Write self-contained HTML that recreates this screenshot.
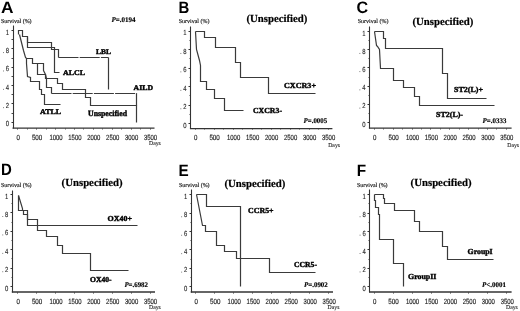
<!DOCTYPE html><html><head><meta charset="utf-8"><style>html,body{margin:0;padding:0;background:#fff;}svg{display:block;filter:grayscale(100%);text-rendering:geometricPrecision;}</style></head><body><svg width="520" height="311" viewBox="0 0 520 311">
<rect width="520" height="311" fill="#fff"/>
<text x="1.0" y="13.0" font-family="Liberation Sans" font-size="16.5" font-weight="bold" font-style="normal" text-anchor="start" fill="#000" textLength="12.5" lengthAdjust="spacingAndGlyphs">A</text>
<text x="1.0" y="23.0" font-family="Liberation Serif" font-size="6.0" font-weight="normal" font-style="normal" text-anchor="start" fill="#111" textLength="30.6" lengthAdjust="spacingAndGlyphs" stroke="#111" stroke-width="0.16">Survival (%)</text>
<path d="M13.5,25.5 V128.5" fill="none" stroke="#333" stroke-width="1.1"/>
<path d="M12.5,128.2 H154.5" fill="none" stroke="#333" stroke-width="1.3"/>
<path d="M11.5,30.5 H13.5" fill="none" stroke="#333" stroke-width="1.0"/>
<path d="M11.5,39.5 H13.5" fill="none" stroke="#333" stroke-width="0.9"/>
<path d="M11.5,48.5 H13.5" fill="none" stroke="#333" stroke-width="1.0"/>
<path d="M11.5,58.5 H13.5" fill="none" stroke="#333" stroke-width="0.9"/>
<path d="M11.5,67.5 H13.5" fill="none" stroke="#333" stroke-width="1.0"/>
<path d="M11.5,76.5 H13.5" fill="none" stroke="#333" stroke-width="0.9"/>
<path d="M11.5,85.5 H13.5" fill="none" stroke="#333" stroke-width="1.0"/>
<path d="M11.5,94.5 H13.5" fill="none" stroke="#333" stroke-width="0.9"/>
<path d="M11.5,103.5 H13.5" fill="none" stroke="#333" stroke-width="1.0"/>
<path d="M11.5,113.5 H13.5" fill="none" stroke="#333" stroke-width="0.9"/>
<path d="M11.5,122.5 H13.5" fill="none" stroke="#333" stroke-width="1.0"/>
<text transform="translate(9.1,34.6) scale(0.8,1)" font-family="Liberation Sans" font-size="7.4" text-anchor="end" fill="#222" stroke="#222" stroke-width="0.1">1</text>
<text transform="translate(9.1,52.96) scale(0.8,1)" font-family="Liberation Sans" font-size="7.4" text-anchor="end" fill="#222" stroke="#222" stroke-width="0.1">8</text>
<rect x="3.0" y="52.16" width="0.9" height="0.9" fill="#666"/>
<text transform="translate(9.1,71.32) scale(0.8,1)" font-family="Liberation Sans" font-size="7.4" text-anchor="end" fill="#222" stroke="#222" stroke-width="0.1">6</text>
<rect x="3.0" y="70.52" width="0.9" height="0.9" fill="#666"/>
<text transform="translate(9.1,89.68) scale(0.8,1)" font-family="Liberation Sans" font-size="7.4" text-anchor="end" fill="#222" stroke="#222" stroke-width="0.1">4</text>
<rect x="3.0" y="88.88" width="0.9" height="0.9" fill="#666"/>
<text transform="translate(9.1,108.04) scale(0.8,1)" font-family="Liberation Sans" font-size="7.4" text-anchor="end" fill="#222" stroke="#222" stroke-width="0.1">2</text>
<rect x="3.0" y="107.24" width="0.9" height="0.9" fill="#666"/>
<text transform="translate(9.1,126.4) scale(0.8,1)" font-family="Liberation Sans" font-size="7.4" text-anchor="end" fill="#222" stroke="#222" stroke-width="0.1">0</text>
<path d="M17.5,128.5 V129.5" fill="none" stroke="#333" stroke-width="1.0"/>
<path d="M27.5,128.5 V129.5" fill="none" stroke="#333" stroke-width="0.8"/>
<path d="M36.5,128.5 V129.5" fill="none" stroke="#333" stroke-width="1.0"/>
<path d="M46.5,128.5 V129.5" fill="none" stroke="#333" stroke-width="0.8"/>
<path d="M55.5,128.5 V129.5" fill="none" stroke="#333" stroke-width="1.0"/>
<path d="M65.5,128.5 V129.5" fill="none" stroke="#333" stroke-width="0.8"/>
<path d="M74.5,128.5 V129.5" fill="none" stroke="#333" stroke-width="1.0"/>
<path d="M83.5,128.5 V129.5" fill="none" stroke="#333" stroke-width="0.8"/>
<path d="M93.5,128.5 V129.5" fill="none" stroke="#333" stroke-width="1.0"/>
<path d="M102.5,128.5 V129.5" fill="none" stroke="#333" stroke-width="0.8"/>
<path d="M112.5,128.5 V129.5" fill="none" stroke="#333" stroke-width="1.0"/>
<path d="M121.5,128.5 V129.5" fill="none" stroke="#333" stroke-width="0.8"/>
<path d="M131.5,128.5 V129.5" fill="none" stroke="#333" stroke-width="1.0"/>
<path d="M140.5,128.5 V129.5" fill="none" stroke="#333" stroke-width="0.8"/>
<path d="M150.5,128.5 V129.5" fill="none" stroke="#333" stroke-width="1.0"/>
<text x="18.2" y="139.7" font-family="Liberation Sans" font-size="7.5" font-weight="normal" font-style="normal" text-anchor="middle" fill="#222" textLength="3.4" lengthAdjust="spacingAndGlyphs" stroke="#222" stroke-width="0.16">0</text>
<text x="37.1" y="139.7" font-family="Liberation Sans" font-size="7.5" font-weight="normal" font-style="normal" text-anchor="middle" fill="#222" textLength="10.4" lengthAdjust="spacingAndGlyphs" stroke="#222" stroke-width="0.16">500</text>
<text x="56.0" y="139.7" font-family="Liberation Sans" font-size="7.5" font-weight="normal" font-style="normal" text-anchor="middle" fill="#222" textLength="13.2" lengthAdjust="spacingAndGlyphs" stroke="#222" stroke-width="0.16">1000</text>
<text x="74.9" y="139.7" font-family="Liberation Sans" font-size="7.5" font-weight="normal" font-style="normal" text-anchor="middle" fill="#222" textLength="13.2" lengthAdjust="spacingAndGlyphs" stroke="#222" stroke-width="0.16">1500</text>
<text x="93.8" y="139.7" font-family="Liberation Sans" font-size="7.5" font-weight="normal" font-style="normal" text-anchor="middle" fill="#222" textLength="13.2" lengthAdjust="spacingAndGlyphs" stroke="#222" stroke-width="0.16">2000</text>
<text x="112.7" y="139.7" font-family="Liberation Sans" font-size="7.5" font-weight="normal" font-style="normal" text-anchor="middle" fill="#222" textLength="13.2" lengthAdjust="spacingAndGlyphs" stroke="#222" stroke-width="0.16">2500</text>
<text x="131.6" y="139.7" font-family="Liberation Sans" font-size="7.5" font-weight="normal" font-style="normal" text-anchor="middle" fill="#222" textLength="13.2" lengthAdjust="spacingAndGlyphs" stroke="#222" stroke-width="0.16">3000</text>
<text x="150.5" y="139.7" font-family="Liberation Sans" font-size="7.5" font-weight="normal" font-style="normal" text-anchor="middle" fill="#222" textLength="13.2" lengthAdjust="spacingAndGlyphs" stroke="#222" stroke-width="0.16">3500</text>
<text x="149.0" y="144.8" font-family="Liberation Serif" font-size="6.0" font-weight="normal" font-style="normal" text-anchor="start" fill="#1a1a1a" textLength="11.8" lengthAdjust="spacingAndGlyphs" stroke="#1a1a1a" stroke-width="0.1">Days</text>
<text x="178.6" y="13.0" font-family="Liberation Sans" font-size="16.5" font-weight="bold" font-style="normal" text-anchor="start" fill="#000" textLength="10.8" lengthAdjust="spacingAndGlyphs">B</text>
<text x="178.8" y="23.0" font-family="Liberation Serif" font-size="6.0" font-weight="normal" font-style="normal" text-anchor="start" fill="#111" textLength="30.6" lengthAdjust="spacingAndGlyphs" stroke="#111" stroke-width="0.16">Survival (%)</text>
<path d="M190.5,26.5 V128.5" fill="none" stroke="#333" stroke-width="1.1"/>
<path d="M189.9,128.6 H332.4" fill="none" stroke="#333" stroke-width="1.3"/>
<path d="M188.5,31.5 H190.5" fill="none" stroke="#333" stroke-width="1.0"/>
<path d="M189.5,40.5 H190.5" fill="none" stroke="#333" stroke-width="0.9"/>
<path d="M188.5,49.5 H190.5" fill="none" stroke="#333" stroke-width="1.0"/>
<path d="M189.5,58.5 H190.5" fill="none" stroke="#333" stroke-width="0.9"/>
<path d="M188.5,68.5 H190.5" fill="none" stroke="#333" stroke-width="1.0"/>
<path d="M189.5,77.5 H190.5" fill="none" stroke="#333" stroke-width="0.9"/>
<path d="M188.5,86.5 H190.5" fill="none" stroke="#333" stroke-width="1.0"/>
<path d="M189.5,95.5 H190.5" fill="none" stroke="#333" stroke-width="0.9"/>
<path d="M188.5,105.5 H190.5" fill="none" stroke="#333" stroke-width="1.0"/>
<path d="M189.5,114.5 H190.5" fill="none" stroke="#333" stroke-width="0.9"/>
<path d="M188.5,123.5 H190.5" fill="none" stroke="#333" stroke-width="1.0"/>
<text transform="translate(186.5,35.3) scale(0.8,1)" font-family="Liberation Sans" font-size="7.4" text-anchor="end" fill="#222" stroke="#222" stroke-width="0.1">1</text>
<text transform="translate(186.5,53.76) scale(0.8,1)" font-family="Liberation Sans" font-size="7.4" text-anchor="end" fill="#222" stroke="#222" stroke-width="0.1">8</text>
<rect x="180.4" y="52.96" width="0.9" height="0.9" fill="#666"/>
<text transform="translate(186.5,72.22) scale(0.8,1)" font-family="Liberation Sans" font-size="7.4" text-anchor="end" fill="#222" stroke="#222" stroke-width="0.1">6</text>
<rect x="180.4" y="71.42" width="0.9" height="0.9" fill="#666"/>
<text transform="translate(186.5,90.68) scale(0.8,1)" font-family="Liberation Sans" font-size="7.4" text-anchor="end" fill="#222" stroke="#222" stroke-width="0.1">4</text>
<rect x="180.4" y="89.88" width="0.9" height="0.9" fill="#666"/>
<text transform="translate(186.5,109.14) scale(0.8,1)" font-family="Liberation Sans" font-size="7.4" text-anchor="end" fill="#222" stroke="#222" stroke-width="0.1">2</text>
<rect x="180.4" y="108.34" width="0.9" height="0.9" fill="#666"/>
<text transform="translate(186.5,127.6) scale(0.8,1)" font-family="Liberation Sans" font-size="7.4" text-anchor="end" fill="#222" stroke="#222" stroke-width="0.1">0</text>
<path d="M195.5,128.5 V129.5" fill="none" stroke="#333" stroke-width="1.0"/>
<path d="M204.5,128.5 V129.5" fill="none" stroke="#333" stroke-width="0.8"/>
<path d="M214.5,128.5 V129.5" fill="none" stroke="#333" stroke-width="1.0"/>
<path d="M223.5,128.5 V129.5" fill="none" stroke="#333" stroke-width="0.8"/>
<path d="M233.5,128.5 V129.5" fill="none" stroke="#333" stroke-width="1.0"/>
<path d="M242.5,128.5 V129.5" fill="none" stroke="#333" stroke-width="0.8"/>
<path d="M252.5,128.5 V129.5" fill="none" stroke="#333" stroke-width="1.0"/>
<path d="M261.5,128.5 V129.5" fill="none" stroke="#333" stroke-width="0.8"/>
<path d="M271.5,128.5 V129.5" fill="none" stroke="#333" stroke-width="1.0"/>
<path d="M280.5,128.5 V129.5" fill="none" stroke="#333" stroke-width="0.8"/>
<path d="M290.5,128.5 V129.5" fill="none" stroke="#333" stroke-width="1.0"/>
<path d="M299.5,128.5 V129.5" fill="none" stroke="#333" stroke-width="0.8"/>
<path d="M309.5,128.5 V129.5" fill="none" stroke="#333" stroke-width="1.0"/>
<path d="M318.5,128.5 V129.5" fill="none" stroke="#333" stroke-width="0.8"/>
<path d="M328.5,128.5 V129.5" fill="none" stroke="#333" stroke-width="1.0"/>
<text x="195.6" y="139.8" font-family="Liberation Sans" font-size="7.5" font-weight="normal" font-style="normal" text-anchor="middle" fill="#222" textLength="3.4" lengthAdjust="spacingAndGlyphs" stroke="#222" stroke-width="0.16">0</text>
<text x="214.6" y="139.8" font-family="Liberation Sans" font-size="7.5" font-weight="normal" font-style="normal" text-anchor="middle" fill="#222" textLength="10.4" lengthAdjust="spacingAndGlyphs" stroke="#222" stroke-width="0.16">500</text>
<text x="233.6" y="139.8" font-family="Liberation Sans" font-size="7.5" font-weight="normal" font-style="normal" text-anchor="middle" fill="#222" textLength="13.2" lengthAdjust="spacingAndGlyphs" stroke="#222" stroke-width="0.16">1000</text>
<text x="252.6" y="139.8" font-family="Liberation Sans" font-size="7.5" font-weight="normal" font-style="normal" text-anchor="middle" fill="#222" textLength="13.2" lengthAdjust="spacingAndGlyphs" stroke="#222" stroke-width="0.16">1500</text>
<text x="271.6" y="139.8" font-family="Liberation Sans" font-size="7.5" font-weight="normal" font-style="normal" text-anchor="middle" fill="#222" textLength="13.2" lengthAdjust="spacingAndGlyphs" stroke="#222" stroke-width="0.16">2000</text>
<text x="290.6" y="139.8" font-family="Liberation Sans" font-size="7.5" font-weight="normal" font-style="normal" text-anchor="middle" fill="#222" textLength="13.2" lengthAdjust="spacingAndGlyphs" stroke="#222" stroke-width="0.16">2500</text>
<text x="309.6" y="139.8" font-family="Liberation Sans" font-size="7.5" font-weight="normal" font-style="normal" text-anchor="middle" fill="#222" textLength="13.2" lengthAdjust="spacingAndGlyphs" stroke="#222" stroke-width="0.16">3000</text>
<text x="328.6" y="139.8" font-family="Liberation Sans" font-size="7.5" font-weight="normal" font-style="normal" text-anchor="middle" fill="#222" textLength="13.2" lengthAdjust="spacingAndGlyphs" stroke="#222" stroke-width="0.16">3500</text>
<text x="328.2" y="146.6" font-family="Liberation Serif" font-size="6.0" font-weight="normal" font-style="normal" text-anchor="start" fill="#1a1a1a" textLength="11.8" lengthAdjust="spacingAndGlyphs" stroke="#1a1a1a" stroke-width="0.1">Days</text>
<text x="356.6" y="13.4" font-family="Liberation Sans" font-size="16.5" font-weight="bold" font-style="normal" text-anchor="start" fill="#000" textLength="11.6" lengthAdjust="spacingAndGlyphs">C</text>
<text x="357.8" y="23.0" font-family="Liberation Serif" font-size="6.0" font-weight="normal" font-style="normal" text-anchor="start" fill="#111" textLength="30.6" lengthAdjust="spacingAndGlyphs" stroke="#111" stroke-width="0.16">Survival (%)</text>
<path d="M369.5,26.5 V128.5" fill="none" stroke="#333" stroke-width="1.1"/>
<path d="M368.9,128.2 H511.6" fill="none" stroke="#333" stroke-width="1.3"/>
<path d="M367.5,31.5 H369.5" fill="none" stroke="#333" stroke-width="1.0"/>
<path d="M368.5,40.5 H369.5" fill="none" stroke="#333" stroke-width="0.9"/>
<path d="M367.5,49.5 H369.5" fill="none" stroke="#333" stroke-width="1.0"/>
<path d="M368.5,58.5 H369.5" fill="none" stroke="#333" stroke-width="0.9"/>
<path d="M367.5,67.5 H369.5" fill="none" stroke="#333" stroke-width="1.0"/>
<path d="M368.5,77.5 H369.5" fill="none" stroke="#333" stroke-width="0.9"/>
<path d="M367.5,86.5 H369.5" fill="none" stroke="#333" stroke-width="1.0"/>
<path d="M368.5,95.5 H369.5" fill="none" stroke="#333" stroke-width="0.9"/>
<path d="M367.5,104.5 H369.5" fill="none" stroke="#333" stroke-width="1.0"/>
<path d="M368.5,113.5 H369.5" fill="none" stroke="#333" stroke-width="0.9"/>
<path d="M367.5,122.5 H369.5" fill="none" stroke="#333" stroke-width="1.0"/>
<text transform="translate(365.5,35.5) scale(0.8,1)" font-family="Liberation Sans" font-size="7.4" text-anchor="end" fill="#222" stroke="#222" stroke-width="0.1">1</text>
<text transform="translate(365.5,53.74) scale(0.8,1)" font-family="Liberation Sans" font-size="7.4" text-anchor="end" fill="#222" stroke="#222" stroke-width="0.1">8</text>
<rect x="359.4" y="52.94" width="0.9" height="0.9" fill="#666"/>
<text transform="translate(365.5,71.98) scale(0.8,1)" font-family="Liberation Sans" font-size="7.4" text-anchor="end" fill="#222" stroke="#222" stroke-width="0.1">6</text>
<rect x="359.4" y="71.18" width="0.9" height="0.9" fill="#666"/>
<text transform="translate(365.5,90.22) scale(0.8,1)" font-family="Liberation Sans" font-size="7.4" text-anchor="end" fill="#222" stroke="#222" stroke-width="0.1">4</text>
<rect x="359.4" y="89.42" width="0.9" height="0.9" fill="#666"/>
<text transform="translate(365.5,108.46) scale(0.8,1)" font-family="Liberation Sans" font-size="7.4" text-anchor="end" fill="#222" stroke="#222" stroke-width="0.1">2</text>
<rect x="359.4" y="107.66" width="0.9" height="0.9" fill="#666"/>
<text transform="translate(365.5,126.7) scale(0.8,1)" font-family="Liberation Sans" font-size="7.4" text-anchor="end" fill="#222" stroke="#222" stroke-width="0.1">0</text>
<path d="M374.5,128.5 V129.5" fill="none" stroke="#333" stroke-width="1.0"/>
<path d="M383.5,128.5 V129.5" fill="none" stroke="#333" stroke-width="0.8"/>
<path d="M393.5,128.5 V129.5" fill="none" stroke="#333" stroke-width="1.0"/>
<path d="M402.5,128.5 V129.5" fill="none" stroke="#333" stroke-width="0.8"/>
<path d="M412.5,128.5 V129.5" fill="none" stroke="#333" stroke-width="1.0"/>
<path d="M421.5,128.5 V129.5" fill="none" stroke="#333" stroke-width="0.8"/>
<path d="M430.5,128.5 V129.5" fill="none" stroke="#333" stroke-width="1.0"/>
<path d="M440.5,128.5 V129.5" fill="none" stroke="#333" stroke-width="0.8"/>
<path d="M449.5,128.5 V129.5" fill="none" stroke="#333" stroke-width="1.0"/>
<path d="M459.5,128.5 V129.5" fill="none" stroke="#333" stroke-width="0.8"/>
<path d="M468.5,128.5 V129.5" fill="none" stroke="#333" stroke-width="1.0"/>
<path d="M478.5,128.5 V129.5" fill="none" stroke="#333" stroke-width="0.8"/>
<path d="M487.5,128.5 V129.5" fill="none" stroke="#333" stroke-width="1.0"/>
<path d="M496.5,128.5 V129.5" fill="none" stroke="#333" stroke-width="0.8"/>
<path d="M506.5,128.5 V129.5" fill="none" stroke="#333" stroke-width="1.0"/>
<text x="374.8" y="139.8" font-family="Liberation Sans" font-size="7.5" font-weight="normal" font-style="normal" text-anchor="middle" fill="#222" textLength="3.4" lengthAdjust="spacingAndGlyphs" stroke="#222" stroke-width="0.16">0</text>
<text x="393.65" y="139.8" font-family="Liberation Sans" font-size="7.5" font-weight="normal" font-style="normal" text-anchor="middle" fill="#222" textLength="10.4" lengthAdjust="spacingAndGlyphs" stroke="#222" stroke-width="0.16">500</text>
<text x="412.5" y="139.8" font-family="Liberation Sans" font-size="7.5" font-weight="normal" font-style="normal" text-anchor="middle" fill="#222" textLength="13.2" lengthAdjust="spacingAndGlyphs" stroke="#222" stroke-width="0.16">1000</text>
<text x="431.35" y="139.8" font-family="Liberation Sans" font-size="7.5" font-weight="normal" font-style="normal" text-anchor="middle" fill="#222" textLength="13.2" lengthAdjust="spacingAndGlyphs" stroke="#222" stroke-width="0.16">1500</text>
<text x="450.2" y="139.8" font-family="Liberation Sans" font-size="7.5" font-weight="normal" font-style="normal" text-anchor="middle" fill="#222" textLength="13.2" lengthAdjust="spacingAndGlyphs" stroke="#222" stroke-width="0.16">2000</text>
<text x="469.05" y="139.8" font-family="Liberation Sans" font-size="7.5" font-weight="normal" font-style="normal" text-anchor="middle" fill="#222" textLength="13.2" lengthAdjust="spacingAndGlyphs" stroke="#222" stroke-width="0.16">2500</text>
<text x="487.9" y="139.8" font-family="Liberation Sans" font-size="7.5" font-weight="normal" font-style="normal" text-anchor="middle" fill="#222" textLength="13.2" lengthAdjust="spacingAndGlyphs" stroke="#222" stroke-width="0.16">3000</text>
<text x="506.75" y="139.8" font-family="Liberation Sans" font-size="7.5" font-weight="normal" font-style="normal" text-anchor="middle" fill="#222" textLength="13.2" lengthAdjust="spacingAndGlyphs" stroke="#222" stroke-width="0.16">3500</text>
<text x="507.3" y="146.9" font-family="Liberation Serif" font-size="6.0" font-weight="normal" font-style="normal" text-anchor="start" fill="#1a1a1a" textLength="11.8" lengthAdjust="spacingAndGlyphs" stroke="#1a1a1a" stroke-width="0.1">Days</text>
<text x="1.0" y="175.0" font-family="Liberation Sans" font-size="16.5" font-weight="bold" font-style="normal" text-anchor="start" fill="#000" textLength="10.8" lengthAdjust="spacingAndGlyphs">D</text>
<text x="1.0" y="186.6" font-family="Liberation Serif" font-size="6.0" font-weight="normal" font-style="normal" text-anchor="start" fill="#111" textLength="30.6" lengthAdjust="spacingAndGlyphs" stroke="#111" stroke-width="0.16">Survival (%)</text>
<path d="M12.5,190.5 V292.5" fill="none" stroke="#333" stroke-width="1.1"/>
<path d="M11.8,292.0 H155.0" fill="none" stroke="#333" stroke-width="1.3"/>
<path d="M10.5,194.5 H12.5" fill="none" stroke="#333" stroke-width="1.0"/>
<path d="M11.5,203.5 H12.5" fill="none" stroke="#333" stroke-width="0.9"/>
<path d="M10.5,212.5 H12.5" fill="none" stroke="#333" stroke-width="1.0"/>
<path d="M11.5,222.5 H12.5" fill="none" stroke="#333" stroke-width="0.9"/>
<path d="M10.5,231.5 H12.5" fill="none" stroke="#333" stroke-width="1.0"/>
<path d="M11.5,240.5 H12.5" fill="none" stroke="#333" stroke-width="0.9"/>
<path d="M10.5,249.5 H12.5" fill="none" stroke="#333" stroke-width="1.0"/>
<path d="M11.5,258.5 H12.5" fill="none" stroke="#333" stroke-width="0.9"/>
<path d="M10.5,268.5 H12.5" fill="none" stroke="#333" stroke-width="1.0"/>
<path d="M11.5,277.5 H12.5" fill="none" stroke="#333" stroke-width="0.9"/>
<path d="M10.5,286.5 H12.5" fill="none" stroke="#333" stroke-width="1.0"/>
<text transform="translate(8.4,198.5) scale(0.8,1)" font-family="Liberation Sans" font-size="7.4" text-anchor="end" fill="#222" stroke="#222" stroke-width="0.1">1</text>
<text transform="translate(8.4,216.9) scale(0.8,1)" font-family="Liberation Sans" font-size="7.4" text-anchor="end" fill="#222" stroke="#222" stroke-width="0.1">8</text>
<rect x="2.3" y="216.1" width="0.9" height="0.9" fill="#666"/>
<text transform="translate(8.4,235.3) scale(0.8,1)" font-family="Liberation Sans" font-size="7.4" text-anchor="end" fill="#222" stroke="#222" stroke-width="0.1">6</text>
<rect x="2.3" y="234.5" width="0.9" height="0.9" fill="#666"/>
<text transform="translate(8.4,253.7) scale(0.8,1)" font-family="Liberation Sans" font-size="7.4" text-anchor="end" fill="#222" stroke="#222" stroke-width="0.1">4</text>
<rect x="2.3" y="252.9" width="0.9" height="0.9" fill="#666"/>
<text transform="translate(8.4,272.1) scale(0.8,1)" font-family="Liberation Sans" font-size="7.4" text-anchor="end" fill="#222" stroke="#222" stroke-width="0.1">2</text>
<rect x="2.3" y="271.3" width="0.9" height="0.9" fill="#666"/>
<text transform="translate(8.4,290.5) scale(0.8,1)" font-family="Liberation Sans" font-size="7.4" text-anchor="end" fill="#222" stroke="#222" stroke-width="0.1">0</text>
<path d="M17.5,292.5 V293.5" fill="none" stroke="#333" stroke-width="1.0"/>
<path d="M27.5,292.5 V292.5" fill="none" stroke="#333" stroke-width="0.8"/>
<path d="M36.5,292.5 V293.5" fill="none" stroke="#333" stroke-width="1.0"/>
<path d="M46.5,292.5 V292.5" fill="none" stroke="#333" stroke-width="0.8"/>
<path d="M55.5,292.5 V293.5" fill="none" stroke="#333" stroke-width="1.0"/>
<path d="M65.5,292.5 V292.5" fill="none" stroke="#333" stroke-width="0.8"/>
<path d="M74.5,292.5 V293.5" fill="none" stroke="#333" stroke-width="1.0"/>
<path d="M83.5,292.5 V292.5" fill="none" stroke="#333" stroke-width="0.8"/>
<path d="M93.5,292.5 V293.5" fill="none" stroke="#333" stroke-width="1.0"/>
<path d="M102.5,292.5 V292.5" fill="none" stroke="#333" stroke-width="0.8"/>
<path d="M112.5,292.5 V293.5" fill="none" stroke="#333" stroke-width="1.0"/>
<path d="M121.5,292.5 V292.5" fill="none" stroke="#333" stroke-width="0.8"/>
<path d="M131.5,292.5 V293.5" fill="none" stroke="#333" stroke-width="1.0"/>
<path d="M140.5,292.5 V292.5" fill="none" stroke="#333" stroke-width="0.8"/>
<path d="M150.5,292.5 V293.5" fill="none" stroke="#333" stroke-width="1.0"/>
<text x="18.2" y="303.9" font-family="Liberation Sans" font-size="7.5" font-weight="normal" font-style="normal" text-anchor="middle" fill="#222" textLength="3.4" lengthAdjust="spacingAndGlyphs" stroke="#222" stroke-width="0.16">0</text>
<text x="37.1" y="303.9" font-family="Liberation Sans" font-size="7.5" font-weight="normal" font-style="normal" text-anchor="middle" fill="#222" textLength="10.4" lengthAdjust="spacingAndGlyphs" stroke="#222" stroke-width="0.16">500</text>
<text x="56.0" y="303.9" font-family="Liberation Sans" font-size="7.5" font-weight="normal" font-style="normal" text-anchor="middle" fill="#222" textLength="13.2" lengthAdjust="spacingAndGlyphs" stroke="#222" stroke-width="0.16">1000</text>
<text x="74.9" y="303.9" font-family="Liberation Sans" font-size="7.5" font-weight="normal" font-style="normal" text-anchor="middle" fill="#222" textLength="13.2" lengthAdjust="spacingAndGlyphs" stroke="#222" stroke-width="0.16">1500</text>
<text x="93.8" y="303.9" font-family="Liberation Sans" font-size="7.5" font-weight="normal" font-style="normal" text-anchor="middle" fill="#222" textLength="13.2" lengthAdjust="spacingAndGlyphs" stroke="#222" stroke-width="0.16">2000</text>
<text x="112.7" y="303.9" font-family="Liberation Sans" font-size="7.5" font-weight="normal" font-style="normal" text-anchor="middle" fill="#222" textLength="13.2" lengthAdjust="spacingAndGlyphs" stroke="#222" stroke-width="0.16">2500</text>
<text x="131.6" y="303.9" font-family="Liberation Sans" font-size="7.5" font-weight="normal" font-style="normal" text-anchor="middle" fill="#222" textLength="13.2" lengthAdjust="spacingAndGlyphs" stroke="#222" stroke-width="0.16">3000</text>
<text x="150.5" y="303.9" font-family="Liberation Sans" font-size="7.5" font-weight="normal" font-style="normal" text-anchor="middle" fill="#222" textLength="13.2" lengthAdjust="spacingAndGlyphs" stroke="#222" stroke-width="0.16">3500</text>
<text x="149.0" y="309.3" font-family="Liberation Serif" font-size="6.0" font-weight="normal" font-style="normal" text-anchor="start" fill="#1a1a1a" textLength="11.8" lengthAdjust="spacingAndGlyphs" stroke="#1a1a1a" stroke-width="0.1">Days</text>
<text x="178.4" y="175.5" font-family="Liberation Sans" font-size="16.5" font-weight="bold" font-style="normal" text-anchor="start" fill="#000" textLength="10.2" lengthAdjust="spacingAndGlyphs">E</text>
<text x="179.0" y="186.6" font-family="Liberation Serif" font-size="6.0" font-weight="normal" font-style="normal" text-anchor="start" fill="#111" textLength="30.6" lengthAdjust="spacingAndGlyphs" stroke="#111" stroke-width="0.16">Survival (%)</text>
<path d="M191.5,189.5 V292.5" fill="none" stroke="#333" stroke-width="1.1"/>
<path d="M190.7,292.0 H333.0" fill="none" stroke="#333" stroke-width="1.3"/>
<path d="M189.5,194.5 H191.5" fill="none" stroke="#333" stroke-width="1.0"/>
<path d="M190.5,203.5 H191.5" fill="none" stroke="#333" stroke-width="0.9"/>
<path d="M189.5,213.5 H191.5" fill="none" stroke="#333" stroke-width="1.0"/>
<path d="M190.5,222.5 H191.5" fill="none" stroke="#333" stroke-width="0.9"/>
<path d="M189.5,231.5 H191.5" fill="none" stroke="#333" stroke-width="1.0"/>
<path d="M190.5,240.5 H191.5" fill="none" stroke="#333" stroke-width="0.9"/>
<path d="M189.5,249.5 H191.5" fill="none" stroke="#333" stroke-width="1.0"/>
<path d="M190.5,259.5 H191.5" fill="none" stroke="#333" stroke-width="0.9"/>
<path d="M189.5,268.5 H191.5" fill="none" stroke="#333" stroke-width="1.0"/>
<path d="M190.5,277.5 H191.5" fill="none" stroke="#333" stroke-width="0.9"/>
<path d="M189.5,286.5 H191.5" fill="none" stroke="#333" stroke-width="1.0"/>
<text transform="translate(187.3,198.7) scale(0.8,1)" font-family="Liberation Sans" font-size="7.4" text-anchor="end" fill="#222" stroke="#222" stroke-width="0.1">1</text>
<text transform="translate(187.3,217.14) scale(0.8,1)" font-family="Liberation Sans" font-size="7.4" text-anchor="end" fill="#222" stroke="#222" stroke-width="0.1">8</text>
<rect x="181.2" y="216.34" width="0.9" height="0.9" fill="#666"/>
<text transform="translate(187.3,235.58) scale(0.8,1)" font-family="Liberation Sans" font-size="7.4" text-anchor="end" fill="#222" stroke="#222" stroke-width="0.1">6</text>
<rect x="181.2" y="234.78" width="0.9" height="0.9" fill="#666"/>
<text transform="translate(187.3,254.02) scale(0.8,1)" font-family="Liberation Sans" font-size="7.4" text-anchor="end" fill="#222" stroke="#222" stroke-width="0.1">4</text>
<rect x="181.2" y="253.22" width="0.9" height="0.9" fill="#666"/>
<text transform="translate(187.3,272.46) scale(0.8,1)" font-family="Liberation Sans" font-size="7.4" text-anchor="end" fill="#222" stroke="#222" stroke-width="0.1">2</text>
<rect x="181.2" y="271.66" width="0.9" height="0.9" fill="#666"/>
<text transform="translate(187.3,290.9) scale(0.8,1)" font-family="Liberation Sans" font-size="7.4" text-anchor="end" fill="#222" stroke="#222" stroke-width="0.1">0</text>
<path d="M195.5,292.5 V293.5" fill="none" stroke="#333" stroke-width="1.0"/>
<path d="M205.5,292.5 V292.5" fill="none" stroke="#333" stroke-width="0.8"/>
<path d="M214.5,292.5 V293.5" fill="none" stroke="#333" stroke-width="1.0"/>
<path d="M224.5,292.5 V292.5" fill="none" stroke="#333" stroke-width="0.8"/>
<path d="M233.5,292.5 V293.5" fill="none" stroke="#333" stroke-width="1.0"/>
<path d="M243.5,292.5 V292.5" fill="none" stroke="#333" stroke-width="0.8"/>
<path d="M252.5,292.5 V293.5" fill="none" stroke="#333" stroke-width="1.0"/>
<path d="M262.5,292.5 V292.5" fill="none" stroke="#333" stroke-width="0.8"/>
<path d="M271.5,292.5 V293.5" fill="none" stroke="#333" stroke-width="1.0"/>
<path d="M281.5,292.5 V292.5" fill="none" stroke="#333" stroke-width="0.8"/>
<path d="M290.5,292.5 V293.5" fill="none" stroke="#333" stroke-width="1.0"/>
<path d="M300.5,292.5 V292.5" fill="none" stroke="#333" stroke-width="0.8"/>
<path d="M309.5,292.5 V293.5" fill="none" stroke="#333" stroke-width="1.0"/>
<path d="M319.5,292.5 V292.5" fill="none" stroke="#333" stroke-width="0.8"/>
<path d="M328.5,292.5 V293.5" fill="none" stroke="#333" stroke-width="1.0"/>
<text x="196.2" y="303.9" font-family="Liberation Sans" font-size="7.5" font-weight="normal" font-style="normal" text-anchor="middle" fill="#222" textLength="3.4" lengthAdjust="spacingAndGlyphs" stroke="#222" stroke-width="0.16">0</text>
<text x="215.2" y="303.9" font-family="Liberation Sans" font-size="7.5" font-weight="normal" font-style="normal" text-anchor="middle" fill="#222" textLength="10.4" lengthAdjust="spacingAndGlyphs" stroke="#222" stroke-width="0.16">500</text>
<text x="234.2" y="303.9" font-family="Liberation Sans" font-size="7.5" font-weight="normal" font-style="normal" text-anchor="middle" fill="#222" textLength="13.2" lengthAdjust="spacingAndGlyphs" stroke="#222" stroke-width="0.16">1000</text>
<text x="253.2" y="303.9" font-family="Liberation Sans" font-size="7.5" font-weight="normal" font-style="normal" text-anchor="middle" fill="#222" textLength="13.2" lengthAdjust="spacingAndGlyphs" stroke="#222" stroke-width="0.16">1500</text>
<text x="272.2" y="303.9" font-family="Liberation Sans" font-size="7.5" font-weight="normal" font-style="normal" text-anchor="middle" fill="#222" textLength="13.2" lengthAdjust="spacingAndGlyphs" stroke="#222" stroke-width="0.16">2000</text>
<text x="291.2" y="303.9" font-family="Liberation Sans" font-size="7.5" font-weight="normal" font-style="normal" text-anchor="middle" fill="#222" textLength="13.2" lengthAdjust="spacingAndGlyphs" stroke="#222" stroke-width="0.16">2500</text>
<text x="310.2" y="303.9" font-family="Liberation Sans" font-size="7.5" font-weight="normal" font-style="normal" text-anchor="middle" fill="#222" textLength="13.2" lengthAdjust="spacingAndGlyphs" stroke="#222" stroke-width="0.16">3000</text>
<text x="329.2" y="303.9" font-family="Liberation Sans" font-size="7.5" font-weight="normal" font-style="normal" text-anchor="middle" fill="#222" textLength="13.2" lengthAdjust="spacingAndGlyphs" stroke="#222" stroke-width="0.16">3500</text>
<text x="327.6" y="309.3" font-family="Liberation Serif" font-size="6.0" font-weight="normal" font-style="normal" text-anchor="start" fill="#1a1a1a" textLength="11.8" lengthAdjust="spacingAndGlyphs" stroke="#1a1a1a" stroke-width="0.1">Days</text>
<text x="356.8" y="175.5" font-family="Liberation Sans" font-size="16.5" font-weight="bold" font-style="normal" text-anchor="start" fill="#000" textLength="9.4" lengthAdjust="spacingAndGlyphs">F</text>
<text x="357.0" y="186.6" font-family="Liberation Serif" font-size="6.0" font-weight="normal" font-style="normal" text-anchor="start" fill="#111" textLength="30.6" lengthAdjust="spacingAndGlyphs" stroke="#111" stroke-width="0.16">Survival (%)</text>
<path d="M369.5,189.5 V292.5" fill="none" stroke="#333" stroke-width="1.1"/>
<path d="M369.1,292.0 H511.6" fill="none" stroke="#333" stroke-width="1.3"/>
<path d="M367.5,194.5 H369.5" fill="none" stroke="#333" stroke-width="1.0"/>
<path d="M368.5,203.5 H369.5" fill="none" stroke="#333" stroke-width="0.9"/>
<path d="M367.5,213.5 H369.5" fill="none" stroke="#333" stroke-width="1.0"/>
<path d="M368.5,222.5 H369.5" fill="none" stroke="#333" stroke-width="0.9"/>
<path d="M367.5,231.5 H369.5" fill="none" stroke="#333" stroke-width="1.0"/>
<path d="M368.5,240.5 H369.5" fill="none" stroke="#333" stroke-width="0.9"/>
<path d="M367.5,249.5 H369.5" fill="none" stroke="#333" stroke-width="1.0"/>
<path d="M368.5,259.5 H369.5" fill="none" stroke="#333" stroke-width="0.9"/>
<path d="M367.5,268.5 H369.5" fill="none" stroke="#333" stroke-width="1.0"/>
<path d="M368.5,277.5 H369.5" fill="none" stroke="#333" stroke-width="0.9"/>
<path d="M367.5,286.5 H369.5" fill="none" stroke="#333" stroke-width="1.0"/>
<text transform="translate(365.7,198.7) scale(0.8,1)" font-family="Liberation Sans" font-size="7.4" text-anchor="end" fill="#222" stroke="#222" stroke-width="0.1">1</text>
<text transform="translate(365.7,217.1) scale(0.8,1)" font-family="Liberation Sans" font-size="7.4" text-anchor="end" fill="#222" stroke="#222" stroke-width="0.1">8</text>
<rect x="359.6" y="216.3" width="0.9" height="0.9" fill="#666"/>
<text transform="translate(365.7,235.5) scale(0.8,1)" font-family="Liberation Sans" font-size="7.4" text-anchor="end" fill="#222" stroke="#222" stroke-width="0.1">6</text>
<rect x="359.6" y="234.7" width="0.9" height="0.9" fill="#666"/>
<text transform="translate(365.7,253.9) scale(0.8,1)" font-family="Liberation Sans" font-size="7.4" text-anchor="end" fill="#222" stroke="#222" stroke-width="0.1">4</text>
<rect x="359.6" y="253.1" width="0.9" height="0.9" fill="#666"/>
<text transform="translate(365.7,272.3) scale(0.8,1)" font-family="Liberation Sans" font-size="7.4" text-anchor="end" fill="#222" stroke="#222" stroke-width="0.1">2</text>
<rect x="359.6" y="271.5" width="0.9" height="0.9" fill="#666"/>
<text transform="translate(365.7,290.7) scale(0.8,1)" font-family="Liberation Sans" font-size="7.4" text-anchor="end" fill="#222" stroke="#222" stroke-width="0.1">0</text>
<path d="M374.5,292.5 V293.5" fill="none" stroke="#333" stroke-width="1.0"/>
<path d="M383.5,292.5 V292.5" fill="none" stroke="#333" stroke-width="0.8"/>
<path d="M393.5,292.5 V293.5" fill="none" stroke="#333" stroke-width="1.0"/>
<path d="M402.5,292.5 V292.5" fill="none" stroke="#333" stroke-width="0.8"/>
<path d="M412.5,292.5 V293.5" fill="none" stroke="#333" stroke-width="1.0"/>
<path d="M421.5,292.5 V292.5" fill="none" stroke="#333" stroke-width="0.8"/>
<path d="M431.5,292.5 V293.5" fill="none" stroke="#333" stroke-width="1.0"/>
<path d="M440.5,292.5 V292.5" fill="none" stroke="#333" stroke-width="0.8"/>
<path d="M450.5,292.5 V293.5" fill="none" stroke="#333" stroke-width="1.0"/>
<path d="M459.5,292.5 V292.5" fill="none" stroke="#333" stroke-width="0.8"/>
<path d="M468.5,292.5 V293.5" fill="none" stroke="#333" stroke-width="1.0"/>
<path d="M478.5,292.5 V292.5" fill="none" stroke="#333" stroke-width="0.8"/>
<path d="M487.5,292.5 V293.5" fill="none" stroke="#333" stroke-width="1.0"/>
<path d="M497.5,292.5 V292.5" fill="none" stroke="#333" stroke-width="0.8"/>
<path d="M506.5,292.5 V293.5" fill="none" stroke="#333" stroke-width="1.0"/>
<text x="374.6" y="303.9" font-family="Liberation Sans" font-size="7.5" font-weight="normal" font-style="normal" text-anchor="middle" fill="#222" textLength="3.4" lengthAdjust="spacingAndGlyphs" stroke="#222" stroke-width="0.16">0</text>
<text x="393.55" y="303.9" font-family="Liberation Sans" font-size="7.5" font-weight="normal" font-style="normal" text-anchor="middle" fill="#222" textLength="10.4" lengthAdjust="spacingAndGlyphs" stroke="#222" stroke-width="0.16">500</text>
<text x="412.5" y="303.9" font-family="Liberation Sans" font-size="7.5" font-weight="normal" font-style="normal" text-anchor="middle" fill="#222" textLength="13.2" lengthAdjust="spacingAndGlyphs" stroke="#222" stroke-width="0.16">1000</text>
<text x="431.45" y="303.9" font-family="Liberation Sans" font-size="7.5" font-weight="normal" font-style="normal" text-anchor="middle" fill="#222" textLength="13.2" lengthAdjust="spacingAndGlyphs" stroke="#222" stroke-width="0.16">1500</text>
<text x="450.4" y="303.9" font-family="Liberation Sans" font-size="7.5" font-weight="normal" font-style="normal" text-anchor="middle" fill="#222" textLength="13.2" lengthAdjust="spacingAndGlyphs" stroke="#222" stroke-width="0.16">2000</text>
<text x="469.35" y="303.9" font-family="Liberation Sans" font-size="7.5" font-weight="normal" font-style="normal" text-anchor="middle" fill="#222" textLength="13.2" lengthAdjust="spacingAndGlyphs" stroke="#222" stroke-width="0.16">2500</text>
<text x="488.3" y="303.9" font-family="Liberation Sans" font-size="7.5" font-weight="normal" font-style="normal" text-anchor="middle" fill="#222" textLength="13.2" lengthAdjust="spacingAndGlyphs" stroke="#222" stroke-width="0.16">3000</text>
<text x="507.25" y="303.9" font-family="Liberation Sans" font-size="7.5" font-weight="normal" font-style="normal" text-anchor="middle" fill="#222" textLength="13.2" lengthAdjust="spacingAndGlyphs" stroke="#222" stroke-width="0.16">3500</text>
<text x="506.0" y="309.3" font-family="Liberation Serif" font-size="6.0" font-weight="normal" font-style="normal" text-anchor="start" fill="#1a1a1a" textLength="11.8" lengthAdjust="spacingAndGlyphs" stroke="#1a1a1a" stroke-width="0.1">Days</text>
<text x="246.4" y="21.6" font-family="Liberation Serif" font-size="10.8" font-weight="bold" font-style="normal" text-anchor="start" fill="#000" textLength="61.0" lengthAdjust="spacingAndGlyphs" stroke="#000" stroke-width="0.2">(Unspecified)</text>
<text x="412.4" y="25.4" font-family="Liberation Serif" font-size="10.8" font-weight="bold" font-style="normal" text-anchor="start" fill="#000" textLength="61.0" lengthAdjust="spacingAndGlyphs" stroke="#000" stroke-width="0.2">(Unspecified)</text>
<text x="61.6" y="186.4" font-family="Liberation Serif" font-size="10.8" font-weight="bold" font-style="normal" text-anchor="start" fill="#000" textLength="61.0" lengthAdjust="spacingAndGlyphs" stroke="#000" stroke-width="0.2">(Unspecified)</text>
<text x="224.4" y="186.8" font-family="Liberation Serif" font-size="10.8" font-weight="bold" font-style="normal" text-anchor="start" fill="#000" textLength="61.0" lengthAdjust="spacingAndGlyphs" stroke="#000" stroke-width="0.2">(Unspecified)</text>
<text x="410.6" y="186.4" font-family="Liberation Serif" font-size="10.8" font-weight="bold" font-style="normal" text-anchor="start" fill="#000" textLength="61.0" lengthAdjust="spacingAndGlyphs" stroke="#000" stroke-width="0.2">(Unspecified)</text>
<path d="M18.5,34.5 V30.5 H22.5 V36.5 H27.5 V42.5 H51.5 V49.5 H58.5 V57.5" fill="none" stroke="#3a3a3a" stroke-width="1.2"/>
<path d="M58.5,57.5 H108.5" fill="none" stroke="#3a3a3a" stroke-width="1.2" stroke-dasharray="20,1.2"/>
<path d="M108.5,57.5 V89.5" fill="none" stroke="#3a3a3a" stroke-width="1.2"/>
<path d="M27.5,37.5 V47.5 H54.5 V72.5 H59.5" fill="none" stroke="#3a3a3a" stroke-width="1.2"/>
<path d="M19.5,34.5 L21.5,42.5 L23.5,50.5 L25.5,57.5 L26.5,58.5 H32.5 V63.5 H37.5 V74.5 H45.5 V78.5 H57.5 V83.5 H62.5 V89.5 H85.5 V97.5 H90.5 V105.5 H136.5 V122.5" fill="none" stroke="#3a3a3a" stroke-width="1.2"/>
<path d="M26.5,58.5 V63.5 L27.5,76.5 L30.5,77.5 V81.5 H39.5 V89.5 H41.5 V94.5 H44.5 V104.5 H60.5" fill="none" stroke="#3a3a3a" stroke-width="1.2"/>
<path d="M32.5,63.5 H43.5 V70.5 L45.5,74.5 L46.5,78.5 V87.5 H51.5 V93.5" fill="none" stroke="#3a3a3a" stroke-width="1.2"/>
<path d="M51.5,93.5 H136.5 V105.5" fill="none" stroke="#3a3a3a" stroke-width="1.2" stroke-dasharray="20,1.2"/>
<path d="M195.5,31.5 H204.5 V37.5 H215.5 V47.5 H235.5 V62.5 H240.5 V77.5 H268.5 V93.5 H315.5" fill="none" stroke="#3a3a3a" stroke-width="1.2"/>
<path d="M195.5,31.5 L196.5,49.5 L199.5,60.5 L200.5,65.5 V81.5 H206.5 V89.5 H214.5 V98.5 H224.5 V110.5 H243.5" fill="none" stroke="#3a3a3a" stroke-width="1.2"/>
<path d="M374.5,31.5 H383.5 V38.5 H385.5 V48.5 H442.5 V73.5 H447.5 V98.5 H486.5" fill="none" stroke="#3a3a3a" stroke-width="1.2"/>
<path d="M374.5,31.5 L376.5,45.5 L377.5,46.5 L379.5,49.5 L380.5,68.5 H393.5 V80.5 H403.5 V87.5 H414.5 V96.5 H419.5 V105.5 H494.5" fill="none" stroke="#3a3a3a" stroke-width="1.2"/>
<path d="M18.5,195.5 V210.5 H23.5 V214.5 H27.5 V225.5 H137.5" fill="none" stroke="#3a3a3a" stroke-width="1.2"/>
<path d="M18.5,195.5 L22.5,208.5 V210.5 H27.5 V219.5 H37.5 V230.5 H46.5 V236.5 H57.5 V245.5 H62.5 V253.5 H90.5 V270.5 H128.5" fill="none" stroke="#3a3a3a" stroke-width="1.2"/>
<path d="M196.5,194.5 H206.5 V206.5 H240.5 V286.5" fill="none" stroke="#3a3a3a" stroke-width="1.2"/>
<path d="M196.5,194.5 L202.5,225.5 H205.5 V231.5 H216.5 V245.5 H224.5 V251.5 H236.5 V258.5 H269.5 V272.5 H315.5" fill="none" stroke="#3a3a3a" stroke-width="1.2"/>
<path d="M374.5,194.5 H383.5 V198.5 H384.5 V203.5 H394.5 V210.5 H414.5 V221.5 H419.5 V231.5 H442.5 V246.5 H447.5 V259.5 H493.5" fill="none" stroke="#3a3a3a" stroke-width="1.2"/>
<path d="M374.5,194.5 V200.5 H375.5 V207.5 H378.5 V214.5 H379.5 V239.5 H393.5 V263.5 H403.5 V286.5" fill="none" stroke="#3a3a3a" stroke-width="1.2"/>
<text x="96.0" y="53.9" font-family="Liberation Serif" font-size="7.4" font-weight="bold" font-style="normal" text-anchor="start" fill="#000" textLength="15.0" lengthAdjust="spacingAndGlyphs" stroke="#000" stroke-width="0.4">LBL</text>
<text x="63.0" y="75.0" font-family="Liberation Serif" font-size="7.2" font-weight="bold" font-style="normal" text-anchor="start" fill="#000" textLength="22.0" lengthAdjust="spacingAndGlyphs" stroke="#000" stroke-width="0.4">ALCL</text>
<text x="133.6" y="90.0" font-family="Liberation Serif" font-size="7.2" font-weight="bold" font-style="normal" text-anchor="start" fill="#000" textLength="19.4" lengthAdjust="spacingAndGlyphs" stroke="#000" stroke-width="0.4">AILD</text>
<text x="40.0" y="114.2" font-family="Liberation Serif" font-size="7.2" font-weight="bold" font-style="normal" text-anchor="start" fill="#000" textLength="21.0" lengthAdjust="spacingAndGlyphs" stroke="#000" stroke-width="0.4">ATLL</text>
<text x="88.0" y="116.2" font-family="Liberation Serif" font-size="8.0" font-weight="bold" font-style="normal" text-anchor="start" fill="#000" textLength="39.0" lengthAdjust="spacingAndGlyphs" stroke="#000" stroke-width="0.4">Unspecified</text>
<text x="284.0" y="87.6" font-family="Liberation Serif" font-size="7.7" font-weight="bold" font-style="normal" text-anchor="start" fill="#000" textLength="32.0" lengthAdjust="spacingAndGlyphs" stroke="#000" stroke-width="0.4">CXCR3+</text>
<text x="253.0" y="112.7" font-family="Liberation Serif" font-size="7.7" font-weight="bold" font-style="normal" text-anchor="start" fill="#000" textLength="29.0" lengthAdjust="spacingAndGlyphs" stroke="#000" stroke-width="0.4">CXCR3-</text>
<text x="454.0" y="91.6" font-family="Liberation Serif" font-size="7.7" font-weight="bold" font-style="normal" text-anchor="start" fill="#000" textLength="29.0" lengthAdjust="spacingAndGlyphs" stroke="#000" stroke-width="0.4">ST2(L)+</text>
<text x="436.0" y="116.8" font-family="Liberation Serif" font-size="7.7" font-weight="bold" font-style="normal" text-anchor="start" fill="#000" textLength="27.0" lengthAdjust="spacingAndGlyphs" stroke="#000" stroke-width="0.4">ST2(L)-</text>
<text x="107.6" y="220.5" font-family="Liberation Serif" font-size="7.7" font-weight="bold" font-style="normal" text-anchor="start" fill="#000" textLength="24.4" lengthAdjust="spacingAndGlyphs" stroke="#000" stroke-width="0.4">OX40+</text>
<text x="90.0" y="282.0" font-family="Liberation Serif" font-size="7.7" font-weight="bold" font-style="normal" text-anchor="start" fill="#000" textLength="21.6" lengthAdjust="spacingAndGlyphs" stroke="#000" stroke-width="0.4">OX40-</text>
<text x="248.0" y="213.0" font-family="Liberation Serif" font-size="7.7" font-weight="bold" font-style="normal" text-anchor="start" fill="#000" textLength="25.6" lengthAdjust="spacingAndGlyphs" stroke="#000" stroke-width="0.4">CCR5+</text>
<text x="294.0" y="267.4" font-family="Liberation Serif" font-size="7.7" font-weight="bold" font-style="normal" text-anchor="start" fill="#000" textLength="23.0" lengthAdjust="spacingAndGlyphs" stroke="#000" stroke-width="0.4">CCR5-</text>
<text x="467.6" y="254.0" font-family="Liberation Serif" font-size="7.7" font-weight="bold" font-style="normal" text-anchor="start" fill="#000" textLength="25.0" lengthAdjust="spacingAndGlyphs" stroke="#000" stroke-width="0.4">GroupI</text>
<text x="408.0" y="279.4" font-family="Liberation Serif" font-size="7.7" font-weight="bold" font-style="normal" text-anchor="start" fill="#000" textLength="28.4" lengthAdjust="spacingAndGlyphs" stroke="#000" stroke-width="0.4">GroupII</text>
<text x="111.4" y="22.0" font-family="Liberation Serif" font-size="7.2" font-weight="bold" fill="#000" stroke="#000" stroke-width="0.15" textLength="24.0" lengthAdjust="spacingAndGlyphs"><tspan font-style="italic">P</tspan>=.0194</text>
<text x="303.6" y="123.0" font-family="Liberation Serif" font-size="7.2" font-weight="bold" fill="#000" stroke="#000" stroke-width="0.15" textLength="23.6" lengthAdjust="spacingAndGlyphs"><tspan font-style="italic">P</tspan>=.0005</text>
<text x="482.6" y="123.0" font-family="Liberation Serif" font-size="7.2" font-weight="bold" fill="#000" stroke="#000" stroke-width="0.15" textLength="23.8" lengthAdjust="spacingAndGlyphs"><tspan font-style="italic">P</tspan>=.0333</text>
<text x="124.4" y="287.0" font-family="Liberation Serif" font-size="7.2" font-weight="bold" fill="#000" stroke="#000" stroke-width="0.15" textLength="23.6" lengthAdjust="spacingAndGlyphs"><tspan font-style="italic">P</tspan>=.6982</text>
<text x="304.0" y="287.0" font-family="Liberation Serif" font-size="7.2" font-weight="bold" fill="#000" stroke="#000" stroke-width="0.15" textLength="23.8" lengthAdjust="spacingAndGlyphs"><tspan font-style="italic">P</tspan>=.0902</text>
<text x="482.0" y="287.0" font-family="Liberation Serif" font-size="7.2" font-weight="bold" fill="#000" stroke="#000" stroke-width="0.15" textLength="24.0" lengthAdjust="spacingAndGlyphs"><tspan font-style="italic">P</tspan>&lt;.0001</text>
</svg></body></html>
